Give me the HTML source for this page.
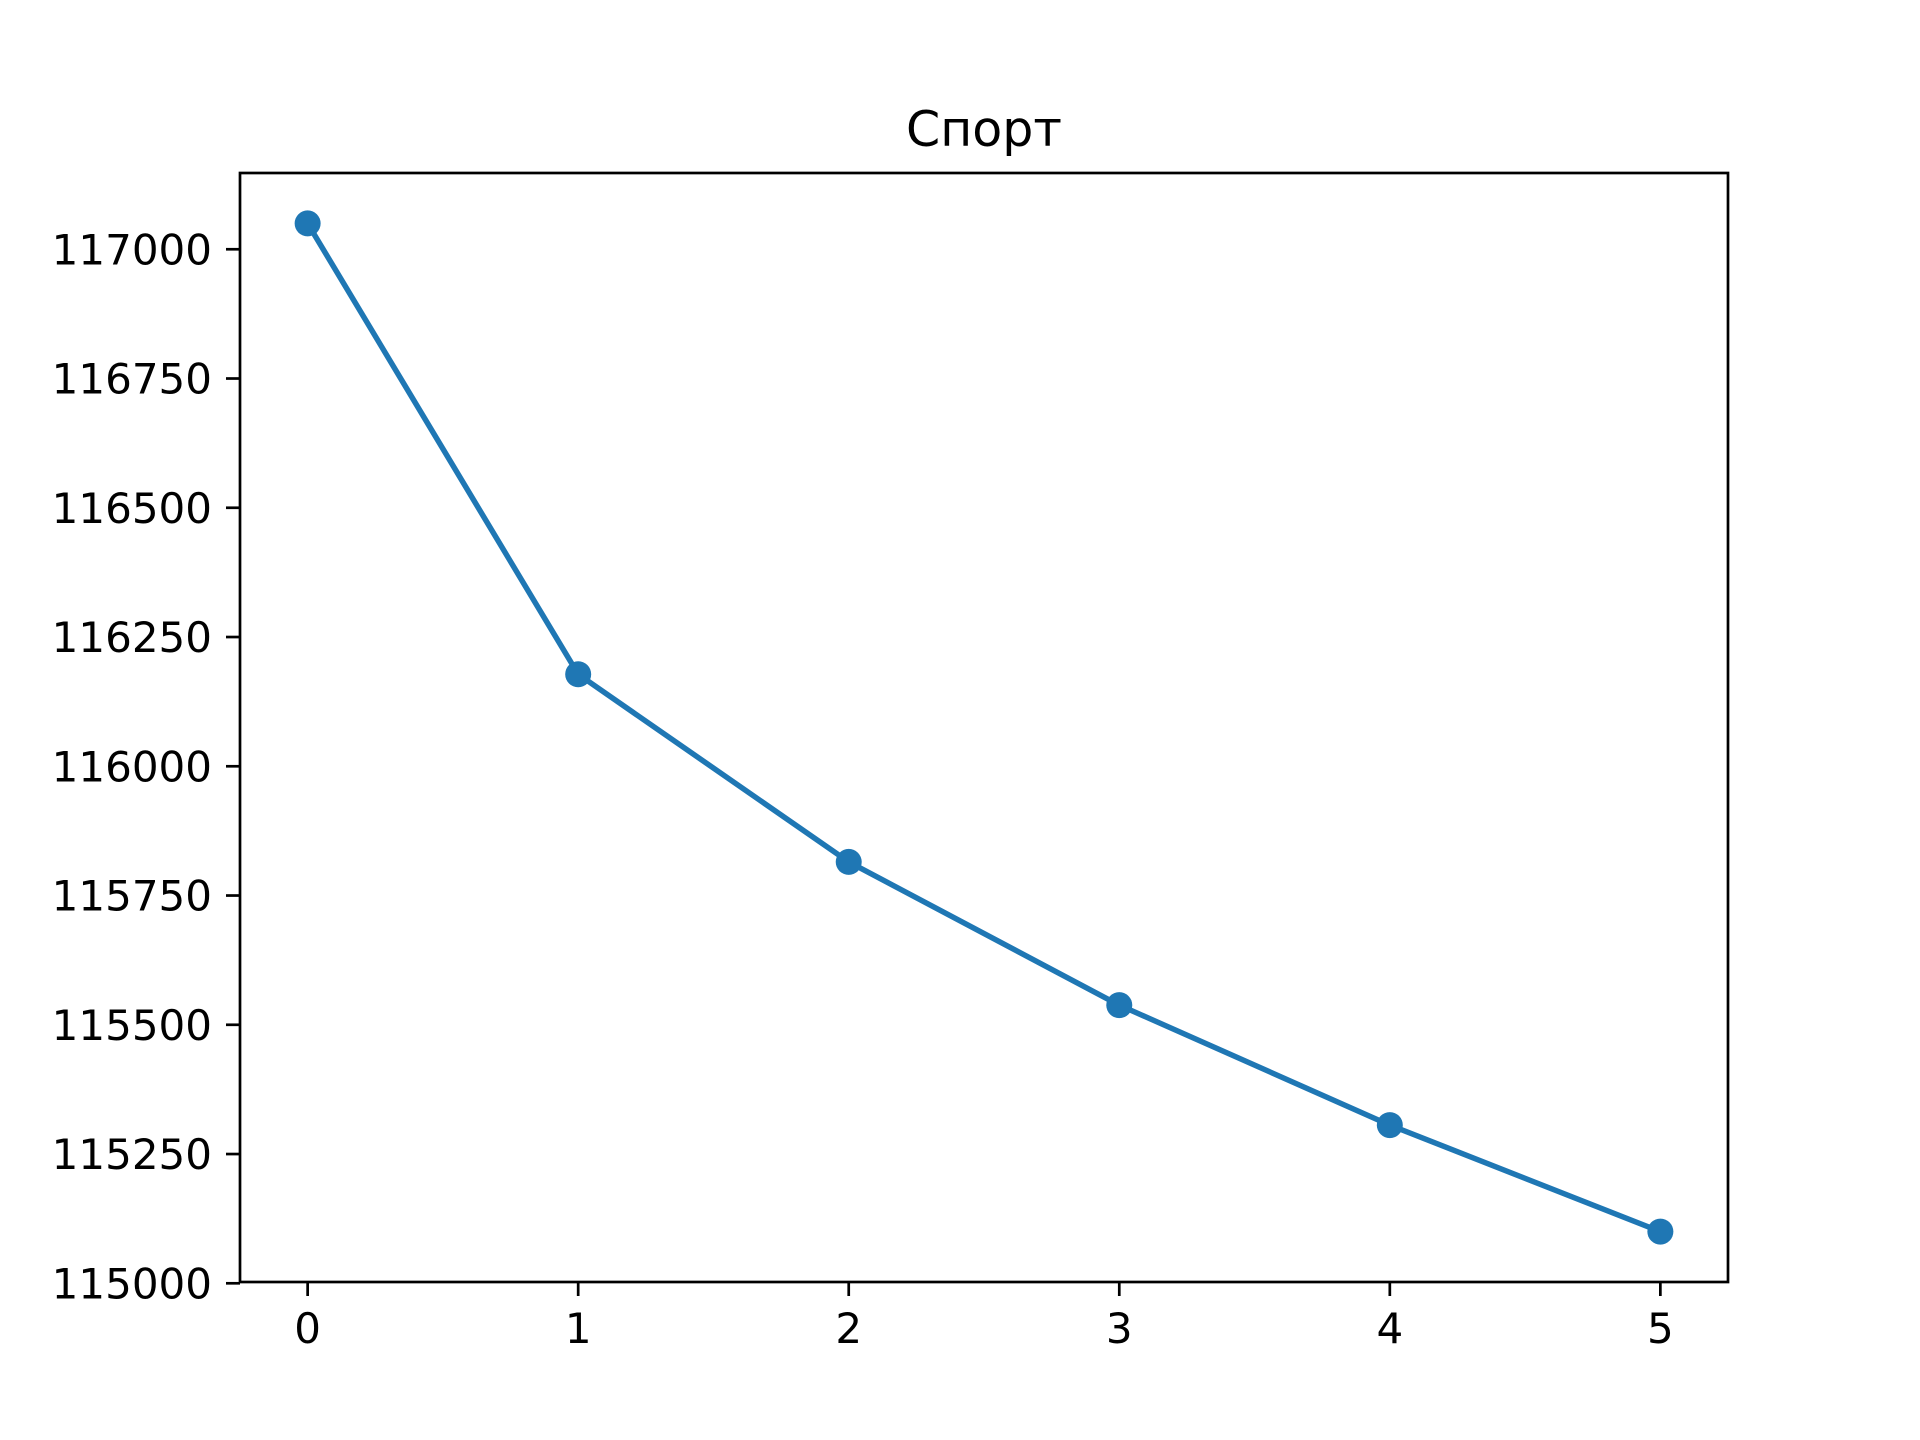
<!DOCTYPE html>
<html><head><meta charset="utf-8"><style>html,body{margin:0;padding:0;background:#fff}svg{display:block}</style></head>
<body>
<svg id="chart" width="1920" height="1440" xmlns="http://www.w3.org/2000/svg" font-family="'DejaVu Sans','Liberation Sans',sans-serif">
<rect width="1920" height="1440" fill="#fff"/>
<text x="984" y="146" font-size="49" text-anchor="middle">Спорт</text>
<g id="plot"></g>
</svg>
<script>
const categories = [0, 1, 2, 3, 4, 5];
const values = [117050, 116178, 115815, 115538, 115306, 115100];
const yTicks = [115000, 115250, 115500, 115750, 116000, 116250, 116500, 116750, 117000];

const L = 240, R = 1728, T = 173, B = 1282;
const xmin = -0.25, xmax = 5.25;
const vmin = Math.min(...values), vmax = Math.max(...values);
const ymin = vmin - 0.05 * (vmax - vmin), ymax = vmax + 0.05 * (vmax - vmin);
const xs = v => L + (v - xmin) / (xmax - xmin) * (R - L);
const ys = v => B - (v - ymin) / (ymax - ymin) * (B - T);
const NS = 'http://www.w3.org/2000/svg';
const g = document.getElementById('plot');
function mk(tag, attrs, parent) {
  const e = document.createElementNS(NS, tag);
  for (const k in attrs) e.setAttribute(k, attrs[k]);
  (parent || g).appendChild(e);
  return e;
}
const line = mk('polyline', {points: categories.map((c, i) => xs(c) + ',' + ys(values[i])).join(' '), fill: 'none', stroke: '#1f77b4', 'stroke-width': 5.5, 'stroke-linejoin': 'round'});


categories.forEach((c, i) => {
  const p = mk('circle', {cx: xs(c), cy: ys(values[i]), r: 13, fill: '#1f77b4'});
  
  
});
const fr = mk('rect', {x: L, y: T, width: R - L, height: B - T, fill: 'none', stroke: '#000', 'stroke-width': 2.7});


categories.forEach(c => {
  const x = xs(c);
  mk('line', {x1: x, x2: x, y1: B, y2: B + 14, stroke: '#000', 'stroke-width': 2.7});
  const t = mk('text', {x: x, y: 1343, 'font-size': 42, 'text-anchor': 'middle'});
  t.textContent = c;
  
  
});
yTicks.forEach(v => {
  const y = ys(v);
  if (y < T - 5 || y > B + 5) return;
  mk('line', {x1: L - 14, x2: L, y1: y, y2: y, stroke: '#000', 'stroke-width': 2.7});
  const t = mk('text', {x: L - 28, y: y + 15, 'font-size': 42, 'text-anchor': 'end'});
  t.textContent = v;
  
  
});
</script>
</body></html>
